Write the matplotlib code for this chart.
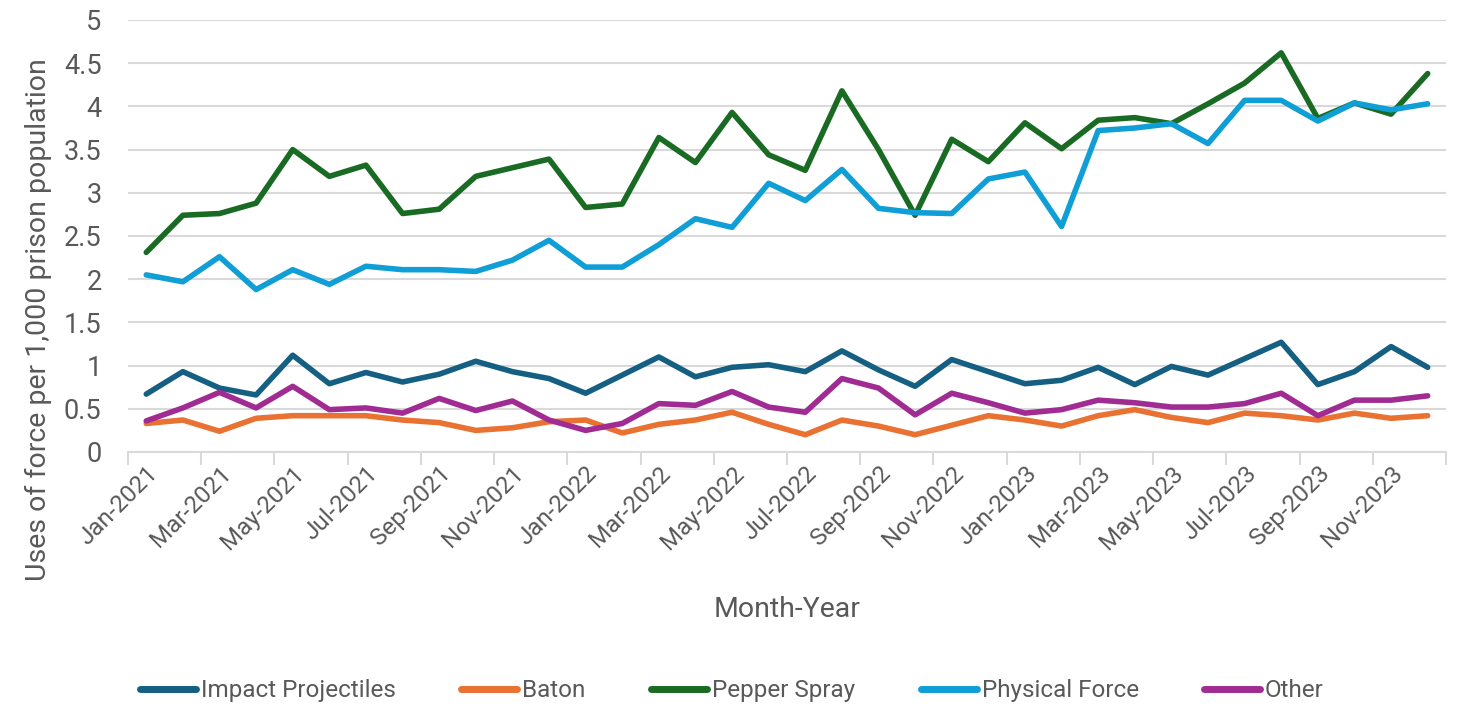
import matplotlib
matplotlib.use("Agg")
import matplotlib.pyplot as plt
import numpy as np

# monthly categories Jan-2021 .. Dec-2023
mon = ['Jan', 'Feb', 'Mar', 'Apr', 'May', 'Jun', 'Jul', 'Aug', 'Sep', 'Oct', 'Nov', 'Dec']
months = [m + '-' + str(y) for y in (2021, 2022, 2023) for m in mon]

impact = [0.67, 0.93, 0.74, 0.66, 1.12, 0.79, 0.92, 0.81, 0.90, 1.05, 0.93, 0.85,
          0.68, 0.89, 1.10, 0.87, 0.98, 1.01, 0.93, 1.17, 0.95, 0.76, 1.07, 0.93,
          0.79, 0.83, 0.98, 0.78, 0.99, 0.89, 1.08, 1.27, 0.78, 0.93, 1.22, 0.98]
baton = [0.33, 0.37, 0.24, 0.39, 0.42, 0.42, 0.42, 0.37, 0.34, 0.25, 0.28, 0.35,
         0.37, 0.22, 0.32, 0.37, 0.46, 0.32, 0.20, 0.37, 0.30, 0.20, 0.31, 0.42,
         0.37, 0.30, 0.42, 0.49, 0.40, 0.34, 0.45, 0.42, 0.37, 0.45, 0.39, 0.42]
pepper = [2.31, 2.74, 2.76, 2.88, 3.50, 3.19, 3.32, 2.76, 2.81, 3.19, 3.29, 3.39,
          2.83, 2.87, 3.64, 3.35, 3.93, 3.44, 3.26, 4.18, 3.50, 2.74, 3.62, 3.36,
          3.81, 3.51, 3.84, 3.87, 3.80, 4.03, 4.27, 4.62, 3.86, 4.04, 3.91, 4.38]
physical = [2.05, 1.97, 2.26, 1.88, 2.11, 1.94, 2.15, 2.11, 2.11, 2.09, 2.22, 2.45,
            2.14, 2.14, 2.40, 2.70, 2.60, 3.11, 2.91, 3.27, 2.82, 2.77, 2.76, 3.16,
            3.24, 2.61, 3.72, 3.75, 3.80, 3.57, 4.07, 4.07, 3.83, 4.04, 3.96, 4.03]
other = [0.36, 0.51, 0.69, 0.51, 0.76, 0.49, 0.51, 0.45, 0.62, 0.48, 0.59, 0.37,
         0.25, 0.33, 0.56, 0.54, 0.70, 0.52, 0.46, 0.85, 0.74, 0.43, 0.68, 0.57,
         0.45, 0.49, 0.60, 0.57, 0.52, 0.52, 0.56, 0.68, 0.42, 0.60, 0.60, 0.65]

series = ['Impact Projectiles', 'Baton', 'Pepper Spray', 'Physical Force', 'Other']
colors = ['#156082', '#E97132', '#196B24', '#0F9ED5', '#A02B93']
data = [impact, baton, pepper, physical, other]

plt.rcParams['font.family'] = ['Roboto', 'DejaVu Sans']
txt = '#595959'

fig = plt.figure(figsize=(14.64, 7.09), dpi=100)
ax = fig.add_axes([0.0874, 0.3625, 0.9003, 0.6093])

x = np.arange(len(months))
for vals, name, c in zip(data, series, colors):
    ax.plot(x, vals, color=c, lw=4.0, label=name,
            solid_joinstyle='round', solid_capstyle='round')

ax.set_xlim(-0.5, len(months) - 0.5)
ax.set_ylim(0, 5)
ax.set_yticks(np.arange(0, 5.01, 0.5))
ax.set_yticklabels(['0', '0.5', '1', '1.5', '2', '2.5', '3', '3.5', '4', '4.5', '5'])
ax.grid(axis='y', color='#D9D9D9', lw=1.5)
ax.set_axisbelow(True)

for s in ['top', 'right', 'left']:
    ax.spines[s].set_visible(False)
ax.spines['bottom'].set_color('#D9D9D9')
ax.spines['bottom'].set_linewidth(1.5)

ax.set_xticks(x[::2])
ax.set_xticklabels(months[::2], rotation=45, ha='right', rotation_mode='anchor')
ax.set_xticks(np.arange(-0.5, len(months), 2), minor=True)
ax.tick_params(axis='x', which='major', length=0, pad=7, labelsize=17.5, labelcolor=txt)
ax.tick_params(axis='x', which='minor', length=9, width=1.5, color='#D9D9D9')
ax.tick_params(axis='y', length=0, pad=19, labelsize=19.5, labelcolor=txt)

fig.text(0.026, 0.549, 'Uses of force per 1,000 prison population', rotation=90,
         ha='center', va='center', fontsize=20.5, color=txt)
fig.text(0.5375, 0.14, 'Month-Year', ha='center', va='center', fontsize=20.5, color=txt)

leg = fig.legend(loc='center', bbox_to_anchor=(0.5, 0.026), ncol=5, frameon=False,
                 prop={'size': 17.5}, labelcolor=txt,
                 handlelength=2.3, handletextpad=0.2, columnspacing=2.7)
for h in leg.legend_handles:
    h.set_linewidth(5)

fig.savefig('out.png', dpi=100, facecolor='white')
